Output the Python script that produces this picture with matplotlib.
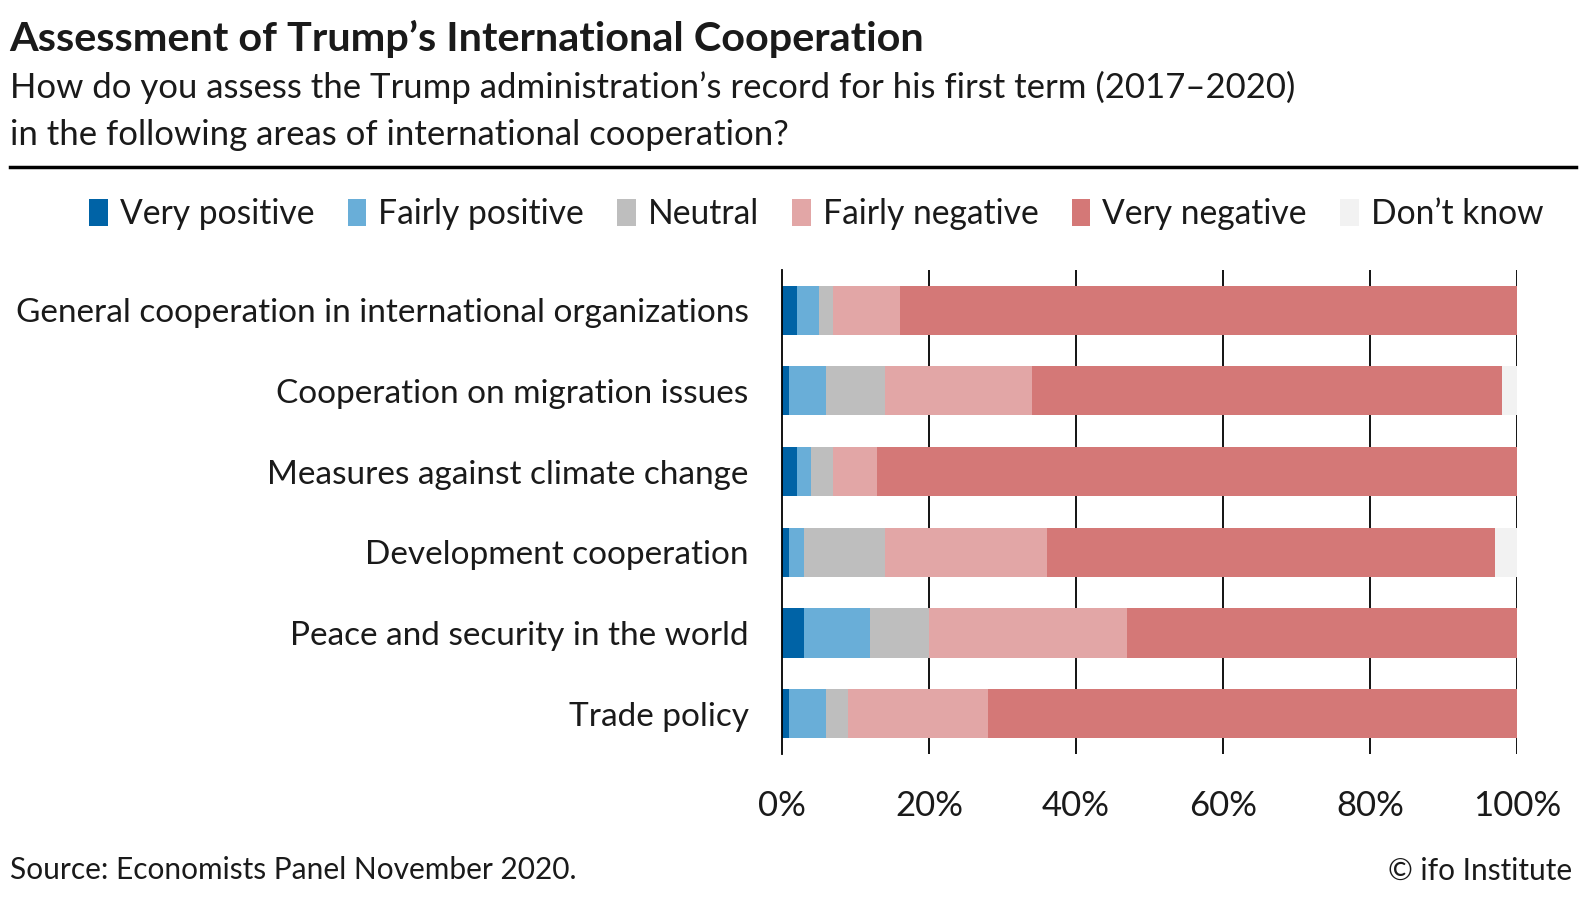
import matplotlib
matplotlib.use('Agg')
import matplotlib.pyplot as plt
from matplotlib.patches import Patch
import numpy as np

plt.rcParams['font.family'] = ['Lato', 'DejaVu Sans']

# ====== data (share of respondents, %)
categories = ['General cooperation in international organizations',
              'Cooperation on migration issues',
              'Measures against climate change',
              'Development cooperation',
              'Peace and security in the world',
              'Trade policy']
answers = ['Very positive', 'Fairly positive', 'Neutral',
           'Fairly negative', 'Very negative', 'Don\u2019t know']
very_pos = [2, 1, 2, 1, 3, 1]
fairly_pos = [3, 5, 2, 2, 9, 5]
neutral = [2, 8, 3, 11, 8, 3]
fairly_neg = [9, 20, 6, 22, 27, 19]
very_neg = [84, 64, 87, 61, 53, 72]
dont_know = [0, 2, 0, 3, 0, 0]
xticks = [0, 20, 40, 60, 80, 100]

colors = ['#0063a6', '#69aed8', '#bebebe', '#e2a6a6', '#d47877', '#f2f2f2']
txt = '#1a1a1a'

fig = plt.figure(figsize=(15.86, 9.24), dpi=100)
ax = fig.add_axes([0.493, 0.184, 0.4635, 0.524])

series = [very_pos, fairly_pos, neutral, fairly_neg, very_neg, dont_know]
y = np.arange(len(categories))
left = np.zeros(len(categories))
for vals, c, lab in zip(series, colors, answers):
    ax.barh(y, vals, left=left, height=0.61, color=c, label=lab, zorder=3)
    left += np.array(vals)

ax.set_xlim(0, 100)
ax.set_ylim(len(categories) - 0.5, -0.5)
ax.set_yticks(y)
ax.set_yticklabels(categories, fontsize=24, color=txt)
ax.set_xticks(xticks)
ax.set_xticklabels([f'{v}%' for v in xticks], fontsize=25, color=txt)
ax.tick_params(axis='y', length=0, pad=24)
ax.tick_params(axis='x', length=0, pad=26)
for v in xticks[1:]:
    ax.axvline(v, color='black', lw=1.3, zorder=1)
for s in ['top', 'right', 'bottom']:
    ax.spines[s].set_visible(False)
ax.spines['left'].set_linewidth(1.3)
ax.spines['left'].set_zorder(4)

# title block
fig.text(0.006, 0.958, 'Assessment of Trump\u2019s International Cooperation',
         fontsize=29.8, fontweight='bold', color=txt, va='center')
fig.text(0.006, 0.905, 'How do you assess the Trump administration\u2019s record for his first term (2017\u20132020)',
         fontsize=25, color=txt, va='center')
fig.text(0.006, 0.854, 'in the following areas of international cooperation?',
         fontsize=25, color=txt, va='center')
fig.add_artist(plt.Line2D([0.006, 0.994], [0.819, 0.819], color='black', lw=2.5))

handles = [Patch(facecolor=c, edgecolor='none') for c in colors]
fig.legend(handles, answers, loc='center right', bbox_to_anchor=(0.992, 0.768), ncol=6,
           frameon=False, fontsize=24.2, handlelength=0.55, handleheight=0.85,
           handletextpad=0.35, columnspacing=1.0, labelcolor=txt)

fig.text(0.006, 0.058, 'Source: Economists Panel November 2020.', fontsize=21.5, color=txt, va='center')
fig.text(0.991, 0.058, '\u00a9 ifo Institute', fontsize=21.5, color=txt, va='center', ha='right')

fig.savefig('out.png', dpi=100)
